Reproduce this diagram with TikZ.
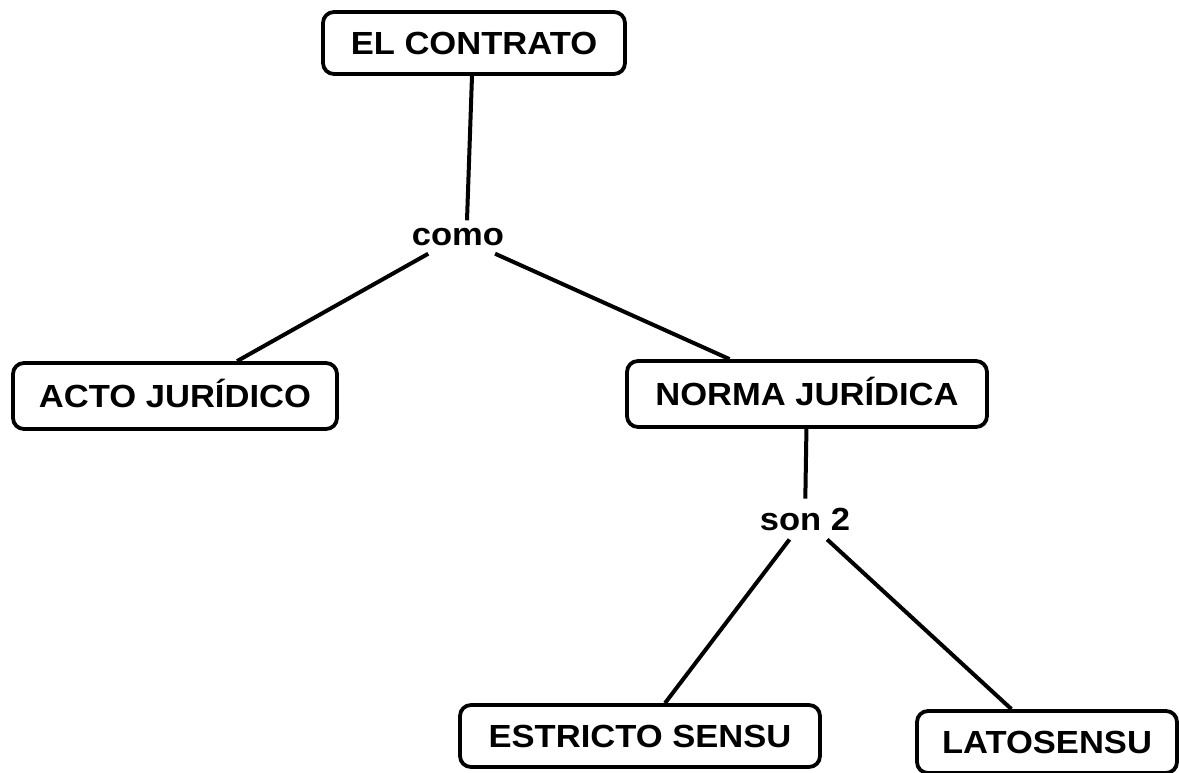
\documentclass[tikz,border=0pt]{standalone}
\usepackage{fontspec}
\setmainfont{Liberation Sans}[FakeStretch=1.08]
\begin{document}
\begin{tikzpicture}[x=1pt,y=-1pt,
  box/.style={draw, line width=3.8pt, rounded corners=11pt, inner sep=0pt,
    minimum height=62pt, text height=22.5pt, text depth=0pt,
    font=\fontsize{32}{38}\selectfont\bfseries},
  lbl/.style={inner xsep=0pt, text depth=0pt,
    font=\fontsize{32}{38}\selectfont\bfseries},
  conn/.style={line width=4pt}]
\useasboundingbox (0,0) rectangle (1179,772);
\node[box, minimum width=302pt] (contrato) at (474,43) {EL CONTRATO};
\node[box, minimum width=324pt, minimum height=66pt] (acto) at (175,396) {ACTO JURÍDICO};
\node[box, minimum width=360pt, minimum height=66pt] (norma) at (807,394) {NORMA JURÍDICA};
\node[box, minimum width=360pt] (estricto) at (640,736) {ESTRICTO SENSU};
\node[box, minimum width=260pt] (lato) at (1047,742) {LATOSENSU};
\node[lbl, text height=17pt, inner ysep=8pt] (como) at (458,237) {como};
\node[lbl, text height=22.5pt, inner ysep=9pt] (son) at (805,519) {son 2};
\draw[conn] ([xshift=-2pt]contrato.south) -- ([xshift=9pt]como.north);
\draw[conn] (como) -- (acto);
\draw[conn] (como) -- (norma);
\draw[conn] (norma) -- (son);
\draw[conn] (son) -- (estricto);
\draw[conn] (son) -- (lato);
\end{tikzpicture}
\end{document}
